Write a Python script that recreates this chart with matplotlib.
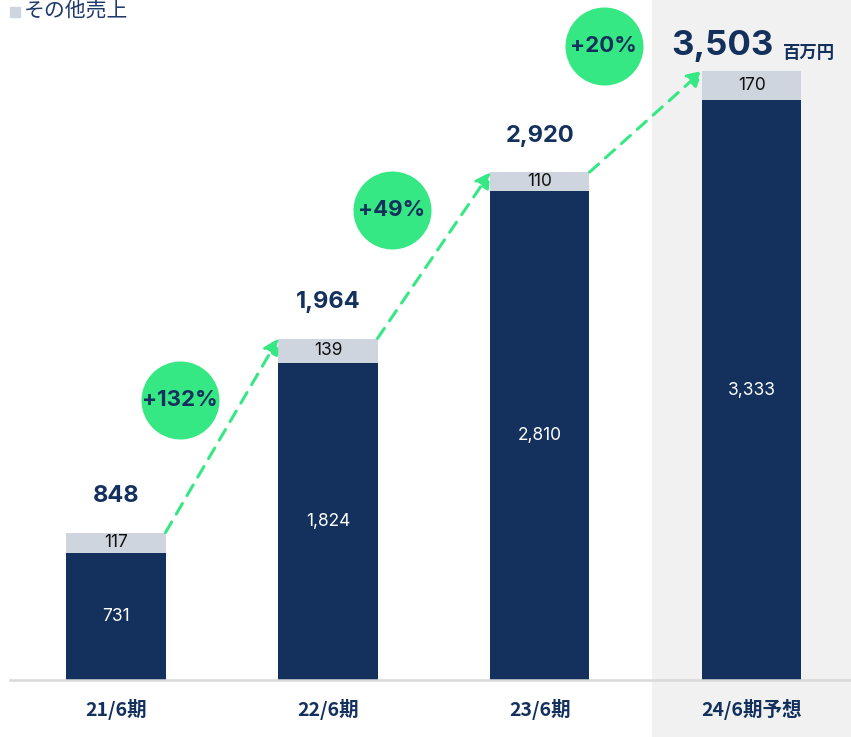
import matplotlib.pyplot as plt
from matplotlib.patches import Rectangle

plt.rcParams['font.family'] = ['Noto Sans CJK JP', 'DejaVu Sans']

periods = ['21/6期', '22/6期', '23/6期', '24/6期予想']
main_sales = [731, 1824, 2810, 3333]
other_sales = [117, 139, 110, 170]
totals = [848, 1964, 2920, 3503]
growth = ['+132%', '+49%', '+20%']

navy = '#13315c'
light = '#cfd5de'
green = '#35e884'
num_font = 'Inter'

fig = plt.figure(figsize=(8.51, 7.37), dpi=100)
# shaded forecast column
fig.patches.append(Rectangle((652 / 851, 0), 1, 1, transform=fig.transFigure,
                             color='#f1f1f1', zorder=-5))
ax = fig.add_axes([10 / 851, 57 / 737, 841 / 851, 680 / 737])
ax.patch.set_alpha(0)

x = range(len(periods))
w = 0.467
ax.bar(x, main_sales, width=w, color=navy, zorder=2)
ax.bar(x, other_sales, width=w, bottom=main_sales, color=light, zorder=2)

ax.set_xlim(-0.5, 3.467)
ax.set_ylim(0, 3910)
for s in ['top', 'right', 'left']:
    ax.spines[s].set_visible(False)
ax.spines['bottom'].set_color('#d9d9d9')
ax.spines['bottom'].set_linewidth(1.8)
ax.set_yticks([])
ax.set_xticks(list(x))
ax.set_xticklabels(periods, fontsize=14, fontweight='bold', color=navy)
ax.tick_params(axis='x', length=0, pad=14)

for i in x:
    ax.text(i, main_sales[i] / 2, f'{main_sales[i]:,}', ha='center', va='center',
            color='white', fontsize=12.5, family=num_font, zorder=3)
    ax.text(i, main_sales[i] + other_sales[i] / 2, f'{other_sales[i]:,}', ha='center',
            va='center', color='#111111', fontsize=12.5, family=num_font, zorder=3)
    if i < 3:
        ax.annotate(f'{totals[i]:,}', (i, totals[i]), xytext=(0, 26),
                    textcoords='offset points', ha='center', va='center',
                    fontsize=17, fontweight='bold', color=navy, family=num_font)
    else:
        ax.annotate(f'{totals[i]:,}', (i - 0.14, totals[i]), xytext=(0, 18),
                    textcoords='offset points', ha='center', va='center',
                    fontsize=25, fontweight='bold', color=navy, family=num_font)
        ax.annotate('百万円', (i + 0.27, totals[i]), xytext=(0, 13),
                    textcoords='offset points', ha='center', va='center',
                    fontsize=12.5, fontweight='bold', color=navy)

# growth arrows and circles
for i in range(3):
    x0, y0 = i + w / 2, totals[i]
    x1, y1 = i + 1 - w / 2, totals[i + 1]
    ax.annotate('', xy=(x1, y1), xytext=(x0, y0),
                arrowprops=dict(arrowstyle='-|>,head_length=0.9,head_width=0.5',
                                color=green, lw=2.2, linestyle=(0, (4, 3)),
                                shrinkA=0, shrinkB=0), zorder=4)
    cx = i + 0.3
    cy = y0 + (cx - x0) / (x1 - x0) * (y1 - y0) + 620 + 30 * (i == 2)
    ax.scatter([cx], [cy], s=(78 * 0.72) ** 2, color=green, zorder=5, linewidths=0)
    ax.text(cx, cy, growth[i], ha='center', va='center', fontsize=16,
            fontweight='bold', color=navy, family=num_font, zorder=6)

# legend
fig.patches.append(Rectangle((10 / 851, 1 - 17 / 737), 10 / 851, 10 / 737,
                             transform=fig.transFigure, color=light))
fig.text(24 / 851, 1 - 12 / 737, 'その他売上', ha='left', va='center',
         fontsize=15, color='#1f3a6a')

fig.savefig('out.png', dpi=100)
